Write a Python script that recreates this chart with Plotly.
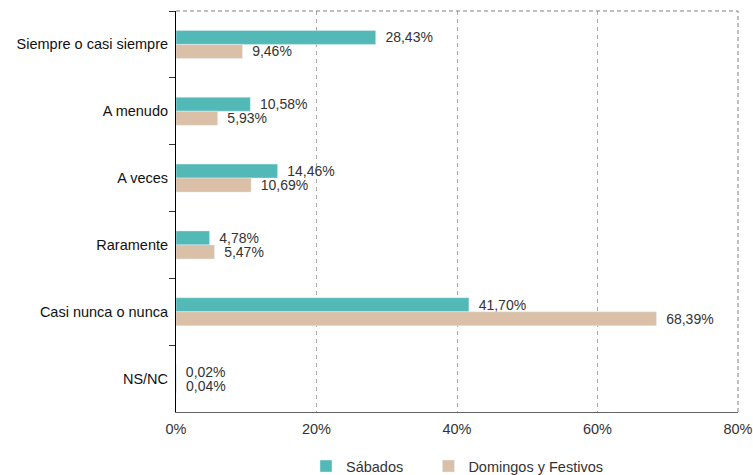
import plotly.graph_objects as go

categories = [
    "Siempre o casi siempre",
    "A menudo",
    "A veces",
    "Raramente",
    "Casi nunca o nunca",
    "NS/NC",
]
sabados = [28.43, 10.58, 14.46, 4.78, 41.70, 0.02]
domingos = [9.46, 5.93, 10.69, 5.47, 68.39, 0.04]
x_ticks = [0, 20, 40, 60, 80]


def pct(values):
    return [" \u2009" + f"{v:.2f}".replace(".", ",") + "%" for v in values]


label_font = dict(size=14, color="#333333")

fig = go.Figure()
fig.add_trace(go.Bar(
    y=categories, x=sabados, name="Sábados" + "\u00a0" * 5, orientation="h",
    marker_color="#52b9b7", text=pct(sabados), textposition="outside",
    textfont=label_font, constraintext="none", cliponaxis=False,
))
fig.add_trace(go.Bar(
    y=categories, x=domingos, name="Domingos y Festivos", orientation="h",
    marker_color="#d9c0a6", text=pct(domingos), textposition="outside",
    textfont=label_font, constraintext="none", cliponaxis=False,
))

fig.update_layout(
    width=753, height=475,
    margin=dict(l=176, r=15, t=11, b=63, autoexpand=False),
    barmode="group", bargap=0.58, bargroupgap=0,
    plot_bgcolor="white", paper_bgcolor="white",
    font=dict(family="Liberation Sans, Arial, sans-serif", size=14.5, color="#333333"),
    showlegend=True,
    legend=dict(orientation="h", x=0.5, xanchor="center", y=-0.135, yanchor="middle",
                font=dict(size=14.5, color="#333333")),
    uniformtext=dict(mode=False),
)
fig.update_xaxes(
    range=[0, 80], tickvals=x_ticks, ticktext=[f"{t}%" for t in x_ticks],
    showgrid=True, gridcolor="#a8a8a8", griddash="4px,4px", gridwidth=1,
    showline=True, linecolor="#666666", linewidth=1, zeroline=False,
    ticks="", ticklabelstandoff=4, tickfont=dict(size=14.5, color="#333333"),
    automargin=False,
)
fig.update_yaxes(
    autorange="reversed", showline=True, linecolor="#000000", linewidth=1,
    ticks="outside", tickson="boundaries", ticklen=6, tickcolor="#333333",
    ticksuffix=" ", showgrid=False, tickfont=dict(size=14.5, color="#111111"),
    automargin=False,
)
# dashed top and right borders
fig.add_shape(type="line", xref="paper", yref="paper", x0=0, x1=1, y0=1, y1=1,
              line=dict(color="#808080", width=1, dash="4px,3px"))
fig.add_shape(type="line", xref="paper", yref="paper", x0=1, x1=1, y0=0, y1=1,
              line=dict(color="#808080", width=1, dash="4px,3px"))

# drop the default body margin so the figure fills the window exactly
fig.write_html("out.html", config={"displayModeBar": False},
               post_script="document.body.style.margin='0';")
